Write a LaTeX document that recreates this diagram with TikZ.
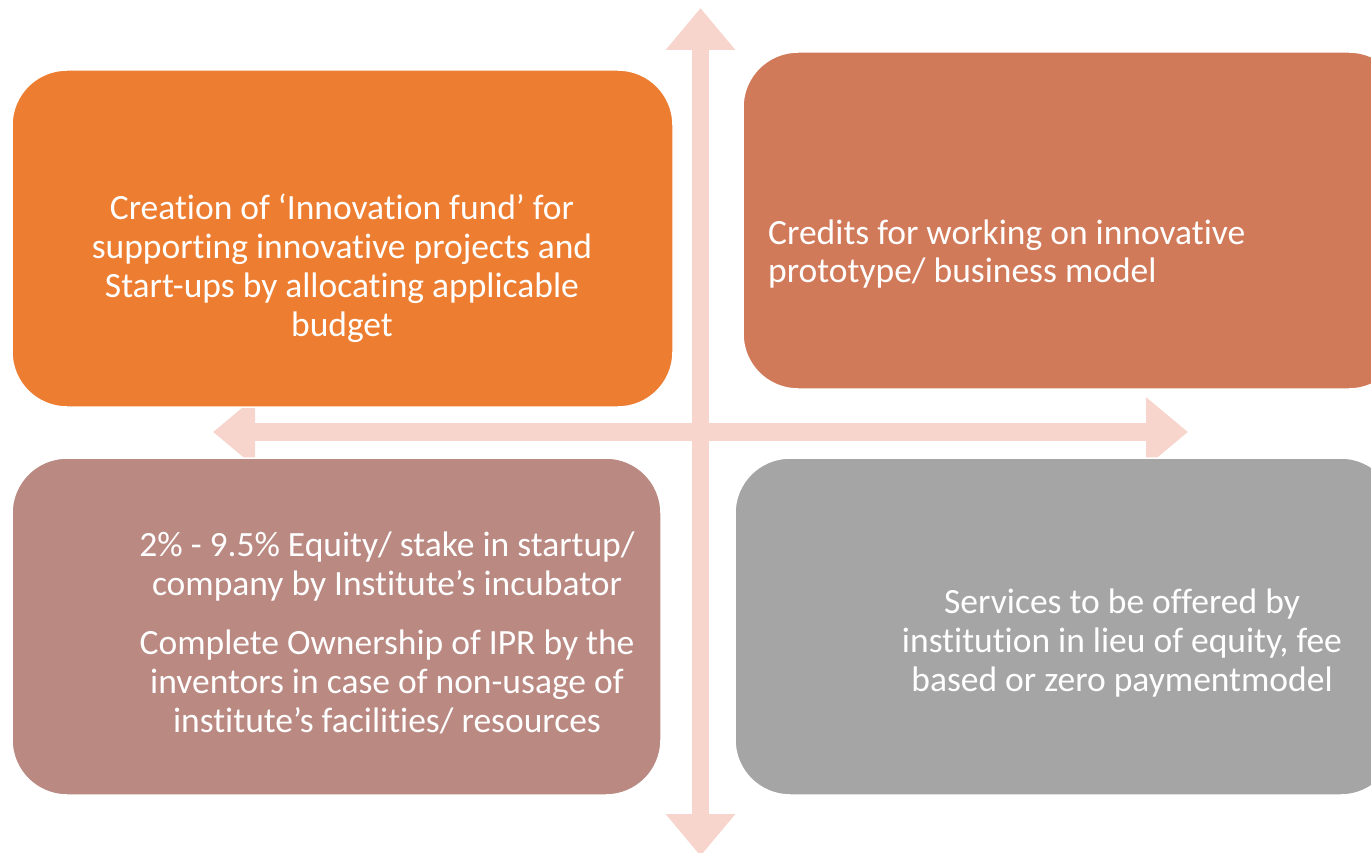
\documentclass[tikz,border=0pt]{standalone}
\usepackage{fontspec}
\setmainfont{Carlito}[RawFeature={-liga;-clig;-calt}]
\usetikzlibrary{arrows.meta}

\definecolor{fundorange}{HTML}{ED7D31}
\definecolor{creditred}{HTML}{D17A5A}
\definecolor{equityrose}{HTML}{B98982}
\definecolor{servicegrey}{HTML}{A5A5A5}
\definecolor{axispink}{HTML}{F7D5CC}

\begin{document}
\begin{tikzpicture}[x=1pt,y=-1pt,
    quad/.style={rounded corners=55pt,draw=white,line width=1.5pt,inner sep=0pt,minimum height=337pt},
    quadtext/.style={text=white,inner sep=0pt,font=\fontsize{35.5}{39}\selectfont},
    axis/.style={axispink,line width=17.5pt,{Triangle[width=67pt,length=42pt]}-{Triangle[width=67pt,length=42pt]}}]
  \useasboundingbox (0,0) rectangle (1371,853);
  \clip (0,0) rectangle (1371,853);
  % axes
  \coordinate (north) at (700.5,8);
  \coordinate (south) at (700.5,856);
  \coordinate (west) at (213,432);
  \coordinate (east) at (1188,432);
  \draw[axis] (west) -- (east);
  \draw[axis] (south) -- (north);
  % quadrants
  \node[quad,fill=fundorange,minimum width=661pt] (fund) at (342.5,238.5) {};
  \node[quad,fill=creditred,minimum width=661pt] (credit) at (1073.5,220.5) {};
  \node[quad,fill=equityrose,minimum width=649pt] (equity) at (336.5,626.5) {};
  \node[quad,fill=servicegrey,minimum width=661pt] (service) at (1065.5,626.5) {};
  % texts (base = last line)
  \node[quadtext,align=center,anchor=base] (fundtext) at (342,336.5)
    {Creation of ‘Innovation fund’ for\\supporting innovative projects and\\Start-ups by allocating applicable\\budget};
  \node[quadtext,align=left,anchor=base west] (credittext) at (768,283)
    {Credits for working on innovative\\prototype/ business model};
  \node[quadtext,align=center,anchor=base] (equitytext) at (387,732)
    {2\% - 9.5\% Equity/ stake in startup/\\company by Institute’s incubator\\[20pt]Complete Ownership of IPR by the\\inventors in case of non-usage of\\institute’s facilities/ resources};
  \node[quadtext,align=center,anchor=base] (servicetext) at (1122,691)
    {Services to be offered by\\institution in lieu of equity, fee\\based or zero paymentmodel};
\end{tikzpicture}
\end{document}
